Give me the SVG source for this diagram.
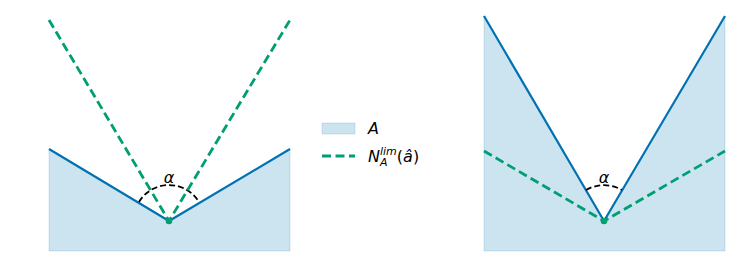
<svg xmlns="http://www.w3.org/2000/svg" width="748" height="276" viewBox="0 0 748 276">
<style>
.fill{fill:#0072B2;fill-opacity:0.2;stroke:#0072B2;stroke-opacity:0.15;stroke-width:1}
.set{fill:none;stroke:#0072B2;stroke-width:2.2;stroke-linejoin:round}
.cone{fill:none;stroke:#009E73;stroke-width:2.8;stroke-dasharray:9 4.5}
.arc{fill:none;stroke:#000;stroke-width:1.8;stroke-dasharray:6 3}
.dot{fill:#009E73}
text{font-family:"DejaVu Sans",sans-serif;font-style:italic;fill:#000}
</style>
<rect width="748" height="276" fill="#fff"/>
<g id="left-panel">
<polygon class="fill" points="49,149 169,221 290,149 290,251 49,251"/>
<polyline class="set" points="49,149 169,221 290,149"/>
<path class="arc" d="M139,202 A35,35 0 0 1 199,202"/>
<text x="169" y="183" font-size="16" text-anchor="middle">α</text>
</g>
<g id="right-panel">
<polygon class="fill" points="484,16 604,221 725,16 725,251 484,251"/>
<polyline class="set" points="484,16 604,221 725,16"/>
<path class="arc" d="M586,190 A36,36 0 0 1 622,190"/>
<text x="604" y="183" font-size="16" text-anchor="middle">α</text>
</g>
<g id="connectors">
<polyline class="cone" points="49,20 169,221 290,20"/>
<polyline class="cone" points="484,151 604,221 725,151"/>
<circle class="dot" cx="169" cy="221" r="3.3"/>
<circle class="dot" cx="604" cy="221" r="3.3"/>
</g>
<g id="legend">
<rect x="322" y="123" width="33" height="11" fill="#0072B2" fill-opacity="0.2" stroke="#0072B2" stroke-opacity="0.15"/>
<line class="cone" x1="322" y1="156" x2="355" y2="156"/>
<text x="368" y="134" font-size="16">A</text>
<text x="368" y="162" font-size="16">N<tspan font-size="11" dy="4">A</tspan><tspan font-size="11" dx="-7.5" dy="-11.5">lim</tspan><tspan font-style="normal" font-size="16" dy="7.5">(</tspan>â<tspan font-style="normal">)</tspan></text>
</g>
</svg>
